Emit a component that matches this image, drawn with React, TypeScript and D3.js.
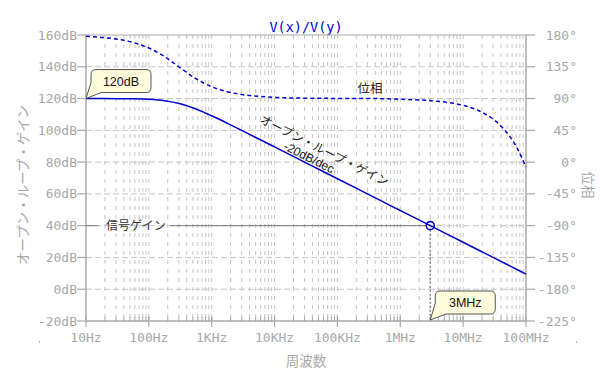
import React from "react";
import * as d3 from "d3";

// ---- data ----
const gainFreqs = [10, 17.8, 31.6, 56.2, 100, 178, 316, 562, 1000, 1780, 3160, 5620, 1e4, 1.78e4, 3.16e4, 5.62e4, 1e5, 1.78e5, 3.16e5, 5.62e5, 1e6, 1.78e6, 3.16e6, 5.62e6, 1e7, 1.78e7, 3.16e7, 5.62e7, 1e8];
const gainDb = [120.0, 120.0, 119.95, 119.85, 119.54, 118.69, 116.75, 113.45, 109.17, 104.42, 99.5, 94.53, 89.54, 84.54, 79.54, 74.54, 69.54, 64.54, 59.54, 54.54, 49.54, 44.54, 39.54, 34.54, 29.54, 24.54, 19.54, 14.54, 9.54];
const phaseFreqs = [10, 17.8, 31.6, 56.2, 100, 178, 316, 562, 1000, 1780, 3160, 5620, 1e4, 3.16e4, 1e5, 3.16e5, 1e6, 3.16e6, 5.62e6, 1e7, 1.78e7, 3.16e7, 4.22e7, 5.62e7, 7.5e7, 1e8];
const phaseDeg = [178.1, 176.6, 174.0, 169.4, 161.6, 149.4, 133.5, 118.1, 106.7, 99.6, 95.4, 93.1, 91.7, 90.5, 90.2, 90.05, 89.0, 86.9, 84.5, 80.3, 72.7, 59.3, 49.0, 35.4, 17.1, -7.2];
const xTickValues = [10, 100, 1e3, 1e4, 1e5, 1e6, 1e7, 1e8];
const xTickLabels = ["10Hz", "100Hz", "1KHz", "10KHz", "100KHz", "1MHz", "10MHz", "100MHz"];
const gainTicks = [-20, 0, 20, 40, 60, 80, 100, 120, 140, 160];
const phaseTicks = [-225, -180, -135, -90, -45, 0, 45, 90, 135, 180];
const dcGain = 120;
const signalGain = 40;
const crossFreq = 3e6;
const title = "V(x)/V(y)";
const leftLabel = "オープン・ループ・ゲイン";
const rightLabel = "位相";
const bottomLabel = "周波数";

// ---- layout ----
const W = 600, H = 381;
const L = 86, R = 526, T = 35, B = 321;
const MONO = "'DejaVu Sans Mono', monospace";
const JP = "'Noto Sans CJK JP', sans-serif";
const SANS = "'Liberation Sans', Arial, sans-serif";
const AXIS = "#a8a8a8";
const GRID = "#c4c4c4";
const BLUE = "#0000cc";
const CALLOUT_FILL = "#fdfbdc";

export default function App() {
  const x = d3.scaleLog().domain([10, 1e8]).range([L, R]);
  const yG = d3.scaleLinear().domain([-20, 160]).range([B, T]);
  const yP = d3.scaleLinear().domain([-225, 180]).range([B, T]);

  const gainPts: [number, number][] = gainFreqs.map((f, i) => [x(f), yG(gainDb[i])]);
  const phasePts: [number, number][] = phaseFreqs.map((f, i) => [x(f), yP(phaseDeg[i])]);
  const line = d3.line().curve(d3.curveMonotoneX);

  const minor: number[] = [];
  for (let d = 1; d < 8; d++) {
    for (let m = 1; m <= 9; m++) {
      const v = m * Math.pow(10, d);
      if (v > 10 && v < 1e8) minor.push(v);
    }
  }

  // slope of the -20dB/dec section
  const i1 = gainFreqs.indexOf(1e6), i2 = gainFreqs.indexOf(1e7);
  const ang = (Math.atan2(yG(gainDb[i2]) - yG(gainDb[i1]), x(1e7) - x(1e6)) * 180) / Math.PI;
  const pointAt = (f: number) => {
    const px = x(f);
    for (let i = 0; i < gainPts.length - 1; i++) {
      if (px >= gainPts[i][0] && px <= gainPts[i + 1][0]) {
        const t = (px - gainPts[i][0]) / (gainPts[i + 1][0] - gainPts[i][0]);
        return [px, gainPts[i][1] + t * (gainPts[i + 1][1] - gainPts[i][1])];
      }
    }
    return [px, 0];
  };
  const [lx1, ly1] = pointAt(4.5e4);
  const [lx2, ly2] = pointAt(3.2e4);

  const cx = x(crossFreq), cy = yG(signalGain);
  const tipA = [x(10), yG(dcGain)];
  const tipB = [cx, B];

  return (
    <svg width={W} height={H} style={{ position: "absolute", left: 0, top: 0 }} xmlns="http://www.w3.org/2000/svg">
      <rect width={W} height={H} fill="#fff" />
      {/* title */}
      <text x={(L + R) / 2} y={32} textAnchor="middle" fontFamily={MONO} fontSize={13.5} fill={BLUE}>{title}</text>

      {/* vertical grid */}
      {minor.map((v) => (
        <line key={"v" + v} x1={x(v)} x2={x(v)} y1={T} y2={B} stroke={GRID} strokeWidth={1} strokeDasharray="4,5" />
      ))}
      {/* horizontal grid */}
      {gainTicks.slice(1, -1).map((v) => (
        <line key={"h" + v} x1={L} x2={R} y1={yG(v)} y2={yG(v)} stroke={GRID} strokeWidth={1} strokeDasharray="6,3" />
      ))}

      {/* frame */}
      <line x1={L} x2={R} y1={T} y2={T} stroke={AXIS} strokeWidth={1} />
      <line x1={L} x2={L} y1={T} y2={B} stroke={AXIS} strokeWidth={1.5} />
      <line x1={R} x2={R} y1={T} y2={B} stroke={AXIS} strokeWidth={1.5} />
      <line x1={L} x2={R} y1={B} y2={B} stroke={AXIS} strokeWidth={1.5} />

      {/* left axis */}
      {gainTicks.map((v) => (
        <g key={"gt" + v}>
          <line x1={L - 9} x2={L} y1={yG(v)} y2={yG(v)} stroke={AXIS} strokeWidth={1.2} />
          <text x={L - 9} y={yG(v) + 4.5} textAnchor="end" fontFamily={MONO} fontSize={13} fill={AXIS}>{v + "dB"}</text>
        </g>
      ))}
      {/* right axis */}
      {phaseTicks.map((v) => (
        <g key={"pt" + v}>
          <line x1={R} x2={R + 9} y1={yP(v)} y2={yP(v)} stroke={AXIS} strokeWidth={1.2} />
          <text x={577} y={yP(v) + 4.5} textAnchor="end" fontFamily={MONO} fontSize={13} fill={AXIS}>{v + "°"}</text>
        </g>
      ))}
      {/* bottom axis */}
      {minor.map((v) => (
        <line key={"mt" + v} x1={x(v)} x2={x(v)} y1={B - 4} y2={B + 1} stroke={AXIS} strokeWidth={1} />
      ))}
      {xTickValues.map((v, i) => (
        <g key={"xt" + v}>
          <line x1={x(v)} x2={x(v)} y1={B - 5} y2={B + 6} stroke={AXIS} strokeWidth={1.2} />
          <text x={x(v)} y={342} textAnchor="middle" fontFamily={MONO} fontSize={13} fill={AXIS}>{xTickLabels[i]}</text>
        </g>
      ))}
      <line x1={39} x2={40} y1={341} y2={343} stroke={AXIS} />
      <line x1={576} x2={577} y1={341} y2={343} stroke={AXIS} />

      {/* axis labels */}
      <text transform={`translate(22,185) rotate(-90)`} textAnchor="middle" dominantBaseline="central" fontFamily={JP} fontSize={13.5} fill={AXIS}>{leftLabel}</text>
      <text transform={`translate(589,185) rotate(90)`} textAnchor="middle" dominantBaseline="central" fontFamily={JP} fontSize={13.5} fill={AXIS}>{rightLabel}</text>
      <text x={(L + R) / 2} y={366} textAnchor="middle" fontFamily={JP} fontSize={13.5} fill={AXIS}>{bottomLabel}</text>

      {/* signal gain line */}
      <line x1={L} x2={98} y1={cy} y2={cy} stroke="#777" strokeWidth={1} />
      <line x1={170} x2={cx - 4} y1={cy} y2={cy} stroke="#777" strokeWidth={1} />
      <text x={136} y={cy + 4.3} textAnchor="middle" fontFamily={JP} fontSize={12} fill="#333">信号ゲイン</text>
      <line x1={cx} x2={cx} y1={cy + 4} y2={B} stroke="#777" strokeWidth={1.3} strokeDasharray="2,2" />

      {/* curves */}
      <path d={line(phasePts) || ""} fill="none" stroke={BLUE} strokeWidth={1.5} strokeDasharray="4,3" />
      <path d={line(gainPts) || ""} fill="none" stroke={BLUE} strokeWidth={1.5} />
      <circle cx={cx} cy={cy} r={4} fill="none" stroke={BLUE} strokeWidth={1.6} />

      {/* curve labels */}
      <text transform={`translate(${lx1},${ly1}) rotate(${ang})`} x={0} y={-15} textAnchor="middle" fontFamily={JP} fontSize={12} fill="#222">{leftLabel}</text>
      <text transform={`translate(${lx2},${ly2}) rotate(${ang})`} x={0} y={-2} textAnchor="middle" fontFamily={SANS} fontSize={12} fill="#111">-20dB/dec</text>
      <text x={370} y={92.5} textAnchor="middle" fontFamily={JP} fontSize={12.5} fill="#222">{rightLabel}</text>

      {/* callout 120dB */}
      <path
        d={`M${tipA[0]},${tipA[1]} L${tipA[0] + 5},${tipA[1] - 16} L${tipA[0] + 5},${tipA[1] - 24} Q${tipA[0] + 5},${tipA[1] - 29} ${tipA[0] + 10},${tipA[1] - 29}
           L${tipA[0] + 60},${tipA[1] - 29} Q${tipA[0] + 65},${tipA[1] - 29} ${tipA[0] + 65},${tipA[1] - 24}
           L${tipA[0] + 65},${tipA[1] - 11} Q${tipA[0] + 65},${tipA[1] - 6} ${tipA[0] + 60},${tipA[1] - 6}
           L${tipA[0] + 15},${tipA[1] - 6} Z`}
        fill={CALLOUT_FILL} stroke="#555" strokeWidth={1}
      />
      <text x={tipA[0] + 35} y={tipA[1] - 13} textAnchor="middle" fontFamily={SANS} fontSize={12.5} fill="#111">{dcGain + "dB"}</text>

      {/* callout 3MHz */}
      <path
        d={`M${tipB[0]},${tipB[1] - 1} L${tipB[0] + 5},${tipB[1] - 18} L${tipB[0] + 5},${tipB[1] - 25} Q${tipB[0] + 5},${tipB[1] - 30} ${tipB[0] + 10},${tipB[1] - 30}
           L${tipB[0] + 60},${tipB[1] - 30} Q${tipB[0] + 65},${tipB[1] - 30} ${tipB[0] + 65},${tipB[1] - 25}
           L${tipB[0] + 65},${tipB[1] - 12} Q${tipB[0] + 65},${tipB[1] - 7} ${tipB[0] + 60},${tipB[1] - 7}
           L${tipB[0] + 16},${tipB[1] - 7} Z`}
        fill={CALLOUT_FILL} stroke="#555" strokeWidth={1}
      />
      <text x={tipB[0] + 35} y={tipB[1] - 14} textAnchor="middle" fontFamily={SANS} fontSize={12.5} fill="#111">{crossFreq / 1e6 + "MHz"}</text>
    </svg>
  );
}
